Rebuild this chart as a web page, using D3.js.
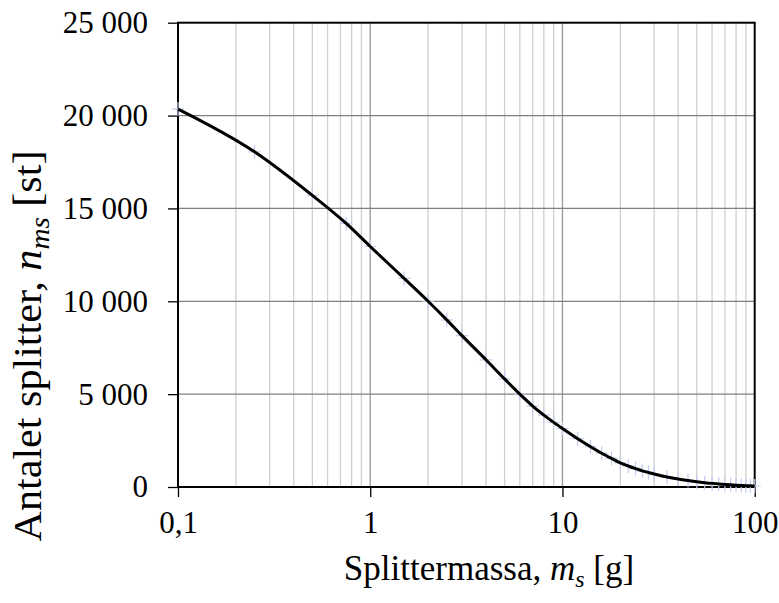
<!DOCTYPE html>
<html>
<head>
<meta charset="utf-8">
<script src="https://d3js.org/d3.v7.min.js"></script>
<style>
  body { margin: 0; background: #fff; }
  svg text { font-family: "Liberation Serif", "Times New Roman", serif; fill: #000; }
</style>
</head>
<body>
<script>
// splitter mass [g] and number of fragments [st]
var massValues = [0.1, 0.25, 0.5, 0.75, 1, 1.5, 2, 2.5, 3, 4, 5, 6, 7, 8, 9, 10,
  12, 14, 16, 18, 20, 22, 24, 26, 28, 30, 35, 40, 45, 50, 55, 60, 65, 70, 75, 80, 85, 90, 95, 100];
var countValues = [20350, 18050, 15700, 14190, 12950, 11230, 10000, 9000, 8150, 6850, 5820, 5000, 4360, 3870, 3480, 3150,
  2600, 2170, 1820, 1540, 1300, 1130, 990, 870, 780, 700, 540, 430, 350, 285, 235, 195, 165, 140, 118, 100, 86, 74, 63, 55];
var xTicks = [0.1, 1, 10, 100];
var xTickLabels = ["0,1", "1", "10", "100"];
var yTicks = [0, 5000, 10000, 15000, 20000, 25000];
var yTickLabels = ["0", "5 000", "10 000", "15 000", "20 000", "25 000"];

var width = 779, height = 603;
var plotLeft = 178, plotTop = 22.7, plotRight = 754.7, plotBottom = 487;

var svg = d3.select("body").append("svg")
  .attr("width", width)
  .attr("height", height);

var x = d3.scaleLog().domain([0.1, 100]).range([plotLeft, plotRight]);
var y = d3.scaleLinear().domain([0, 25000]).range([plotBottom, plotTop]);

// minor vertical grid
var minor = [];
[0.1, 1, 10].forEach(function(d) {
  for (var k = 2; k <= 9; k++) minor.push(d * k);
});
svg.append("g").selectAll("line")
  .data(minor)
  .enter().append("line")
  .attr("x1", function(d) { return x(d); })
  .attr("x2", function(d) { return x(d); })
  .attr("y1", plotTop).attr("y2", plotBottom)
  .attr("stroke", "#cfcfcf")
  .attr("stroke-width", 1.3);

// major vertical grid
svg.append("g").selectAll("line")
  .data([1, 10])
  .enter().append("line")
  .attr("x1", function(d) { return x(d); })
  .attr("x2", function(d) { return x(d); })
  .attr("y1", plotTop).attr("y2", plotBottom)
  .attr("stroke", "#999")
  .attr("stroke-width", 1.3);

// horizontal grid
svg.append("g").selectAll("line")
  .data(yTicks.slice(1, -1))
  .enter().append("line")
  .attr("x1", plotLeft).attr("x2", plotRight)
  .attr("y1", function(d) { return y(d); })
  .attr("y2", function(d) { return y(d); })
  .attr("stroke", "#808080")
  .attr("stroke-width", 1.3);

// axes
var yAxis = d3.axisLeft(y)
  .tickValues(yTicks)
  .tickSize(10)
  .tickPadding(20)
  .tickFormat(function(d, i) { return yTickLabels[i]; });
var gy = svg.append("g").attr("transform", "translate(" + plotLeft + ",0)").call(yAxis);

var xAxis = d3.axisBottom(x)
  .tickValues(xTicks)
  .tickSize(10)
  .tickPadding(14)
  .tickFormat(function(d, i) { return xTickLabels[i]; });
var gx = svg.append("g").attr("transform", "translate(0," + plotBottom + ")").call(xAxis);

[gx, gy].forEach(function(g) {
  g.attr("font-family", null).attr("font-size", 31);
  g.select(".domain").remove();
  g.selectAll("line").attr("stroke", "#000").attr("stroke-width", 1.3);
});

// plot frame
svg.append("rect")
  .attr("x", plotLeft).attr("y", plotTop)
  .attr("width", plotRight - plotLeft).attr("height", plotBottom - plotTop)
  .attr("fill", "none")
  .attr("stroke", "#000")
  .attr("stroke-width", 2);

var pts = massValues.map(function(m, i) { return [m, countValues[i]]; });

// point markers
svg.append("g").selectAll("path")
  .data(pts)
  .enter().append("path")
  .attr("d", function(d) {
    var px = x(d[0]), py = y(d[1]);
    return "M" + (px - 6) + "," + py + "H" + (px + 6) + "M" + px + "," + (py - 7) + "V" + (py + 7);
  })
  .attr("stroke", "#c2cbee")
  .attr("stroke-width", 1.2);

// curve
var line = d3.line()
  .x(function(d) { return x(d[0]); })
  .y(function(d) { return y(d[1]); })
  .curve(d3.curveMonotoneX);
svg.append("path")
  .datum(pts)
  .attr("d", line)
  .attr("fill", "none")
  .attr("stroke", "#000")
  .attr("stroke-width", 3);

// axis titles
var xt = svg.append("text")
  .attr("x", 489)
  .attr("y", 580)
  .attr("text-anchor", "middle")
  .attr("font-size", 35);
xt.append("tspan").text("Splittermassa, ");
xt.append("tspan").attr("font-style", "italic").text("m");
xt.append("tspan").attr("font-style", "italic").attr("font-size", 24).attr("dy", 7).text("s");
xt.append("tspan").attr("dy", -7).text(" [g]");

var yt = svg.append("text")
  .attr("transform", "translate(41,346) rotate(-90) scale(1.08,1)")
  .attr("text-anchor", "middle")
  .attr("font-size", 39);
yt.append("tspan").text("Antalet splitter, ");
yt.append("tspan").attr("font-style", "italic").text("n");
yt.append("tspan").attr("font-style", "italic").attr("font-size", 27).attr("dy", 8).text("ms");
yt.append("tspan").attr("dy", -8).text(" [st]");
</script>
</body>
</html>
